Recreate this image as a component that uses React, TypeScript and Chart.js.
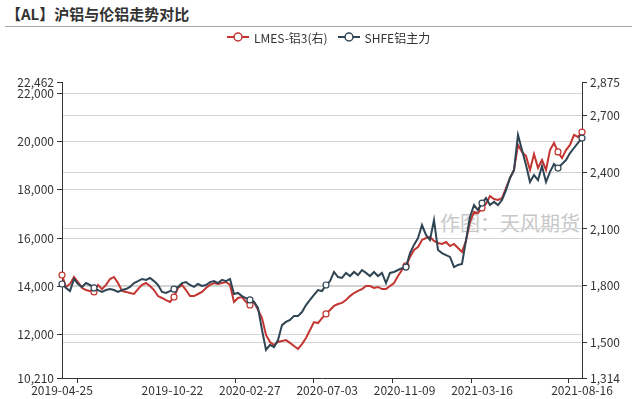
import React, { useEffect, useRef } from 'react';
import { Chart, registerables } from 'chart.js';

Chart.register(...registerables);

const FONT = "'Noto Sans CJK SC', 'Noto Sans', sans-serif";

// x axis: sample positions (index), labelled dates and their positions
const tickLabels = ['2019-04-25', '2019-10-22', '2020-02-27', '2020-07-03', '2020-11-09', '2021-03-16', '2021-08-16'];
const tickPositions = [0, 27.6, 46.95, 66.3, 85.65, 105, 130];
const tickMarkPositions = [3.75, 43.25, 62.75, 82.5, 102.25, 126.5];
const symbolIndices = [0, 8, 28, 47, 66, 86, 105, 124, 130];

// left axis (SHFE) and right axis (LME) ticks
const leftTicks = [10210, 12000, 14000, 16000, 18000, 20000, 22000, 22462];
const rightTicks = [1314, 1500, 1800, 2100, 2400, 2700, 2875];

const seriesNames = ['LMES-铝3(右)', 'SHFE铝主力'];
const seriesColors = ['#c23531', '#2f4554'];

// SHFE aluminium main contract (left axis)
const shfeValues = [
  14100, 13940, 13810, 14310, 14100, 13980, 14140, 14060, 13940, 13850,
  13770, 13850, 13890, 13850, 13770, 13850, 13890, 13980, 14140, 14220,
  14310, 14270, 14350, 14220, 14060, 13770, 13730, 13810, 13890, 13980,
  14140, 14180, 14060, 13980, 14100, 14020, 14060, 14180, 14220, 14140,
  14270, 14220, 14310, 13690, 13730, 13600, 13520, 13440, 13360, 13110,
  12200, 11370, 11580, 11490, 11780, 12400, 12530, 12610, 12780, 12780,
  12940, 13230, 13440, 13650, 13850, 13810, 14060, 14220, 14600, 14390,
  14350, 14560, 14430, 14600, 14470, 14680, 14560, 14430, 14600, 14430,
  14560, 14140, 14560, 14600, 14680, 14760, 14800, 15380, 15720, 16000,
  16540, 16130, 15920, 16750, 15510, 15380, 15300, 15220, 14800, 14890,
  14930, 15920, 16870, 17370, 17160, 17450, 17660, 17370, 17500, 17370,
  17580, 17990, 18490, 18820, 20270, 19650, 19030, 18320, 18610, 18400,
  18980, 18320, 18740, 19070, 18900, 19070, 19230, 19520, 19730, 19940,
  20140,
];

// LME 3M aluminium (right axis)
const lmeValues = [
  1857, 1794, 1810, 1847, 1820, 1789, 1778, 1773, 1768, 1805,
  1783, 1805, 1836, 1847, 1815, 1773, 1768, 1762, 1757, 1783,
  1805, 1815, 1799, 1778, 1746, 1736, 1725, 1715, 1741, 1789,
  1805, 1778, 1746, 1746, 1757, 1768, 1789, 1805, 1815, 1810,
  1815, 1820, 1805, 1715, 1736, 1741, 1715, 1699, 1715, 1673,
  1630, 1541, 1504, 1488, 1504, 1509, 1514, 1499, 1483, 1467,
  1493, 1525, 1567, 1609, 1604, 1630, 1652, 1673, 1694, 1704,
  1710, 1725, 1746, 1762, 1773, 1783, 1799, 1799, 1789, 1794,
  1783, 1783, 1799, 1815, 1852, 1884, 1905, 1952, 1989, 2005,
  2042, 2052, 2058, 2037, 2026, 2021, 2031, 2010, 2021, 2000,
  1979, 2037, 2137, 2190, 2184, 2211, 2232, 2274, 2258, 2253,
  2263, 2316, 2369, 2411, 2543, 2506, 2485, 2411, 2495, 2422,
  2464, 2411, 2516, 2553, 2506, 2474, 2516, 2543, 2596, 2585,
  2611,
];

const xTickMarksPlugin = {
  id: 'xTickMarks',
  afterDraw(chart: any) {
    const s = chart.scales.x;
    const ctx = chart.ctx;
    const y0 = chart.chartArea.bottom;
    ctx.save();
    ctx.strokeStyle = '#333';
    ctx.lineWidth = 1;
    ctx.beginPath();
    tickMarkPositions.forEach((v) => {
      const x = Math.round(s.getPixelForValue(v)) + 0.5;
      ctx.moveTo(x, y0);
      ctx.lineTo(x, y0 + 5);
    });
    ctx.stroke();
    ctx.restore();
  },
};

function LegendIcon({ color }: { color: string }) {
  return (
    <svg width={22} height={12} style={{ display: 'block' }}>
      <line x1={0} y1={6} x2={22} y2={6} stroke={color} strokeWidth={2} />
      <circle cx={11} cy={6} r={4} fill="#fff" stroke={color} strokeWidth={1.5} />
    </svg>
  );
}

export default function App() {
  const ref = useRef<HTMLCanvasElement>(null);

  useEffect(() => {
    const canvas = ref.current;
    if (!canvas) return;
    const pointRadius = (ctx: any) => (symbolIndices.includes(ctx.dataIndex) ? 3 : 0);
    const makeDataset = (k: number, values: number[], axis: string, order: number) => ({
      label: seriesNames[k],
      data: values.map((v, i) => ({ x: i, y: v })),
      yAxisID: axis,
      borderColor: seriesColors[k],
      backgroundColor: '#fff',
      borderWidth: 2,
      pointRadius,
      pointHoverRadius: 0,
      pointBorderWidth: 1.2,
      pointBorderColor: seriesColors[k],
      pointBackgroundColor: '#fff',
      tension: 0,
      order,
      clip: false,
    });
    const chart = new Chart(canvas, {
      type: 'line',
      data: {
        datasets: [makeDataset(0, lmeValues, 'yR', 1), makeDataset(1, shfeValues, 'yL', 0)],
      },
      options: {
        animation: false,
        responsive: false,
        devicePixelRatio: 1,
        layout: { padding: { top: 82, left: 0, right: 0, bottom: 0 } },
        plugins: {
          legend: { display: false },
          tooltip: { enabled: false },
        },
        scales: {
          x: {
            type: 'linear',
            min: 0,
            max: tickPositions[tickPositions.length - 1],
            afterBuildTicks: (s: any) => {
              s.ticks = tickPositions.map((v) => ({ value: v }));
            },
            afterFit: (s: any) => {
              s.height = 21;
            },
            ticks: {
              autoSkip: false,
              maxRotation: 0,
              minRotation: 0,
              padding: 5,
              color: '#333',
              font: { size: 12, family: FONT },
              callback: (v: any) => {
                const k = tickPositions.indexOf(v);
                return k >= 0 ? tickLabels[k] : '';
              },
            },
            grid: { display: false, drawTicks: false },
            border: { display: true, color: '#333', width: 1 },
          },
          yL: {
            type: 'linear',
            position: 'left',
            min: leftTicks[0],
            max: leftTicks[leftTicks.length - 1],
            afterBuildTicks: (s: any) => {
              s.ticks = leftTicks.map((v) => ({ value: v }));
            },
            afterFit: (s: any) => {
              s.width = 62;
            },
            ticks: {
              autoSkip: false,
              padding: 3,
              color: '#333',
              font: { size: 12, family: FONT },
              callback: (v: any) => Number(v).toLocaleString('en-US'),
            },
            grid: {
              drawOnChartArea: true,
              drawTicks: true,
              tickLength: 5,
              tickColor: '#333',
              color: (c: any) =>
                c.tick && (c.tick.value === leftTicks[0] || c.tick.value === leftTicks[leftTicks.length - 1])
                  ? 'rgba(0,0,0,0)'
                  : '#d4d4d4',
            },
            border: { display: true, color: '#333', width: 1 },
          },
          yR: {
            type: 'linear',
            position: 'right',
            min: rightTicks[0],
            max: rightTicks[rightTicks.length - 1],
            afterBuildTicks: (s: any) => {
              s.ticks = rightTicks.map((v) => ({ value: v }));
            },
            afterFit: (s: any) => {
              s.width = 50;
            },
            ticks: {
              autoSkip: false,
              padding: 3,
              color: '#333',
              font: { size: 12, family: FONT },
              callback: (v: any) => Number(v).toLocaleString('en-US'),
            },
            grid: {
              drawOnChartArea: true,
              drawTicks: true,
              tickLength: 5,
              tickColor: '#333',
              color: (c: any) =>
                c.tick && (c.tick.value === rightTicks[0] || c.tick.value === rightTicks[rightTicks.length - 1])
                  ? 'rgba(0,0,0,0)'
                  : '#d4d4d4',
            },
            border: { display: true, color: '#333', width: 1 },
          },
        },
      },
      plugins: [xTickMarksPlugin],
    } as any);
    return () => chart.destroy();
  }, []);

  return (
    <div
      style={{
        position: 'fixed',
        left: 0,
        top: 0,
        width: 632,
        height: 399,
        background: '#fff',
        overflow: 'hidden',
        fontFamily: FONT,
      }}
    >
      <div
        style={{
          position: 'absolute',
          left: 6,
          top: 5,
          fontSize: 15,
          lineHeight: '18px',
          fontWeight: 'bold',
          color: '#333',
          whiteSpace: 'nowrap',
        }}
      >
        【AL】沪铝与伦铝走势对比
      </div>
      <div style={{ position: 'absolute', left: 5, top: 26, width: 627, borderTop: '1px solid #a8a8a8' }} />
      <div
        style={{
          position: 'absolute',
          left: 440,
          top: 211,
          fontSize: 20,
          lineHeight: '24px',
          color: '#c8c8c8',
          whiteSpace: 'nowrap',
        }}
      >
        作图：天风期货
      </div>
      <canvas
        ref={ref}
        width={632}
        height={399}
        style={{ position: 'absolute', left: 0, top: 0, width: 632, height: 399 }}
      />
      <div
        style={{
          position: 'absolute',
          left: 227,
          top: 30,
          height: 14,
          display: 'flex',
          alignItems: 'center',
          fontSize: 12,
          color: '#333',
          whiteSpace: 'nowrap',
        }}
      >
        <LegendIcon color={seriesColors[0]} />
        <span style={{ marginLeft: 5 }}>{seriesNames[0]}</span>
        <span style={{ marginLeft: 10, display: 'block' }}>
          <LegendIcon color={seriesColors[1]} />
        </span>
        <span style={{ marginLeft: 5 }}>{seriesNames[1]}</span>
      </div>
    </div>
  );
}
